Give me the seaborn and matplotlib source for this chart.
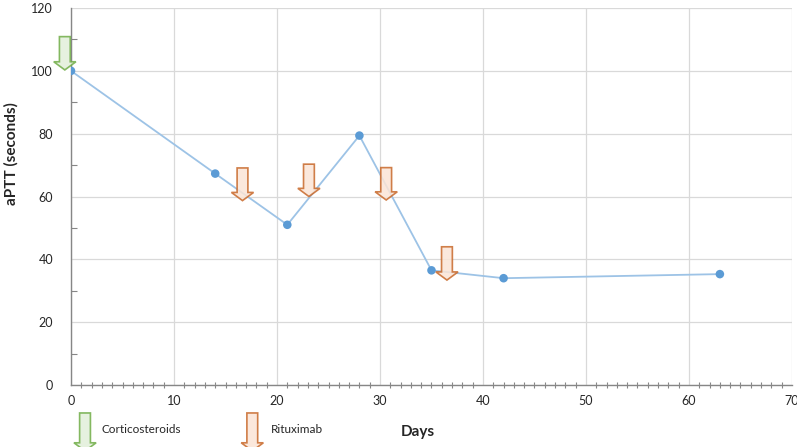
import matplotlib
matplotlib.use("Agg")
import matplotlib.pyplot as plt
from matplotlib.patches import FancyArrow
from matplotlib.ticker import MultipleLocator
import seaborn as sns
import pandas as pd

# ── data ──────────────────────────────────────────────
days = [0, 14, 21, 28, 35, 42, 63]
aptt = [100, 67.3, 51, 79.4, 36.5, 34, 35.3]

# treatment markers: (day, arrow top, arrow tip)
cortico_day = [-0.6]
cortico_top = [110.9]
cortico_tip = [100.3]

ritux_days = [16.65, 23.1, 30.6, 36.5]
ritux_top = [69.1, 70.3, 69.2, 44.0]
ritux_tip = [58.7, 60.0, 58.9, 33.4]

legend_labels = ["Corticosteroids", "Rituximab"]

GREEN_EDGE, GREEN_FILL = "#70ad47", "#e2efda"
ORANGE_EDGE, ORANGE_FILL = "#c8692b", "#fbe5d6"

sns.set_theme(style="white")
plt.rcParams["font.family"] = ["Lato", "DejaVu Sans"]

fig = plt.figure(figsize=(7.97, 4.47), dpi=100)
ax = fig.add_axes([0.0891, 0.1387, 0.9046, 0.8433])

df = pd.DataFrame({"Days": days, "aPTT": aptt})
sns.lineplot(data=df, x="Days", y="aPTT", color="#9dc3e6", linewidth=1.3, ax=ax, zorder=2)
sns.scatterplot(data=df, x="Days", y="aPTT", color="#5b9bd5", s=38, marker="o",
                edgecolor="none", ax=ax, zorder=3)


def arrow(x, top, tip, edge, fill, clip=True):
    a = FancyArrow(x, top, 0, tip - top, width=1.05, head_width=2.15,
                   head_length=2.6, length_includes_head=True,
                   facecolor=fill, edgecolor=edge, linewidth=1.2,
                   alpha=0.85, zorder=4, clip_on=clip)
    ax.add_patch(a)


for x, t, p in zip(cortico_day, cortico_top, cortico_tip):
    arrow(x, t, p, GREEN_EDGE, GREEN_FILL, clip=False)
for x, t, p in zip(ritux_days, ritux_top, ritux_tip):
    arrow(x, t, p, ORANGE_EDGE, ORANGE_FILL)

# legend drawn below the axis
arrow(1.36, -8.9, -21.0, GREEN_EDGE, GREEN_FILL, clip=False)
arrow(17.6, -8.9, -21.0, ORANGE_EDGE, ORANGE_FILL, clip=False)
ax.text(3.0, -14.3, legend_labels[0], fontsize=8.5, va="center", ha="left", color="#262626")
ax.text(19.4, -14.3, legend_labels[1], fontsize=8.5, va="center", ha="left", color="#262626")

ax.set_xlim(0, 70)
ax.set_ylim(0, 120)
ax.xaxis.set_major_locator(MultipleLocator(10))
ax.xaxis.set_minor_locator(MultipleLocator(1))
ax.yaxis.set_major_locator(MultipleLocator(20))
ax.yaxis.set_minor_locator(MultipleLocator(10))

ax.grid(True, which="major", color="#d9d9d9", linewidth=0.9)
ax.set_axisbelow(True)
for s in ["top", "right"]:
    ax.spines[s].set_visible(False)
for s in ["left", "bottom"]:
    ax.spines[s].set_color("#868686")
    ax.spines[s].set_linewidth(1.0)

ax.tick_params(axis="x", which="major", direction="inout", length=7, width=1,
               color="#868686", labelsize=9, labelcolor="#262626", pad=4)
ax.tick_params(axis="x", which="minor", direction="inout", length=4, width=0.8,
               color="#868686", bottom=True)
ax.tick_params(axis="y", which="major", direction="out", length=5, width=1,
               color="#868686", labelsize=9, labelcolor="#262626", pad=8)
ax.tick_params(axis="y", which="minor", direction="in", length=4, width=0.8,
               color="#868686", left=True)

ax.set_xlabel("Days", fontsize=11, fontweight="bold")
ax.xaxis.set_label_coords(0.4805, -0.105)
ax.set_ylabel("aPTT (seconds)", fontsize=11, fontweight="bold")
ax.yaxis.set_label_coords(-0.073, 0.615)

fig.savefig("out.png", dpi=100)
